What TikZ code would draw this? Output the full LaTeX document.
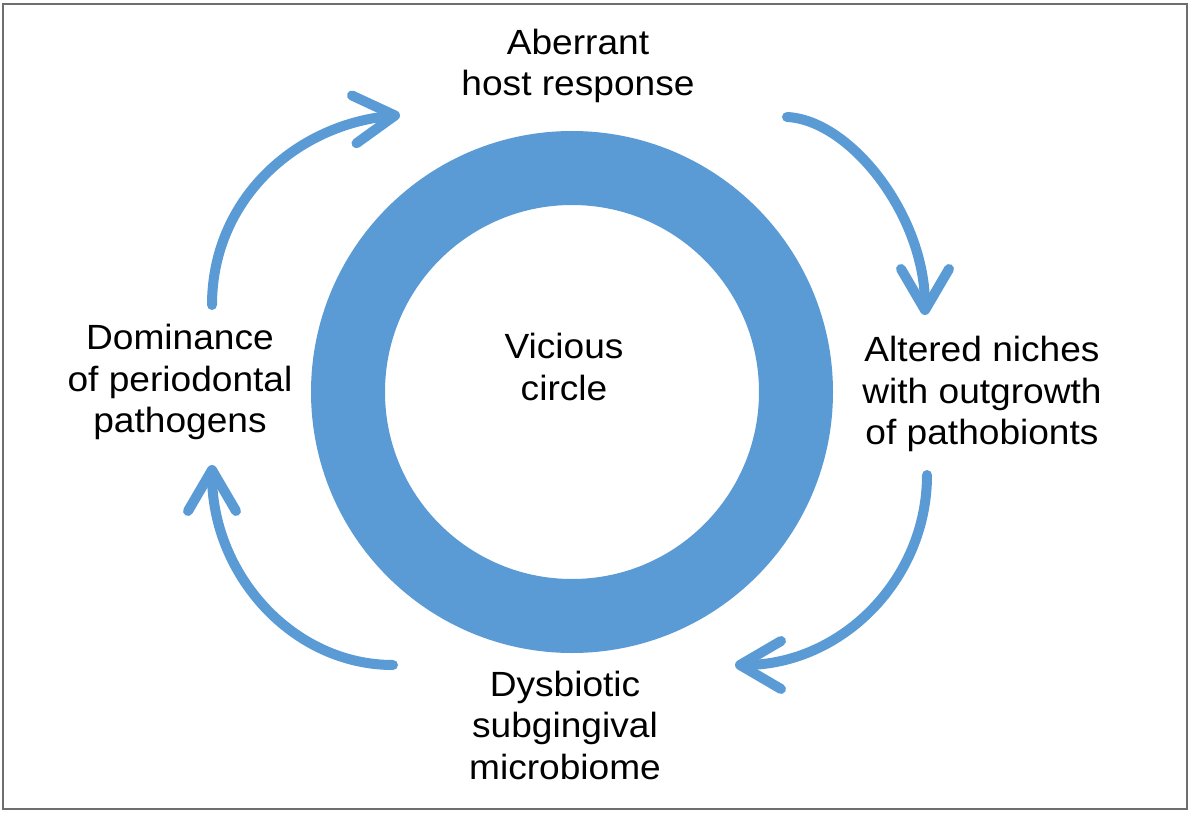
\documentclass[tikz,border=0pt]{standalone}
\usepackage{fontspec}
\setmainfont{Liberation Sans}[FakeStretch=1.06]
\usetikzlibrary{arrows.meta}
\definecolor{ringblue}{RGB}{91,155,213}
\definecolor{framegray}{RGB}{110,110,110}
\begin{document}
\begin{tikzpicture}[x=1pt,y=-1pt,
  lbl/.style={align=center, font=\fontsize{35}{41.5}\selectfont, inner sep=0pt},
  cyc/.style={line width=10pt, draw=ringblue, line cap=round,
    -{Straight Barb[round,length=41pt,width=48pt]}}]
  \useasboundingbox (0,0) rectangle (1191,813);
  \draw[framegray, line width=2.5pt] (3,4) rectangle (1187,809);
  % ring
  \node[circle, draw=ringblue, line width=74pt, minimum size=448pt, inner sep=0pt] (ring) at (572,392) {};
  % labels
  \node[lbl] (center) at (564,367) {Vicious\\circle};
  \node[lbl] (top) at (578,66) {Aberrant\\host response};
  \node[lbl] (right) at (982,394) {Altered niches\\with outgrowth\\of pathobionts};
  \node[lbl] (bottom) at (565,725) {Dysbiotic\\subgingival\\microbiome};
  \node[lbl] (left) at (180,382) {Dominance\\of periodontal\\pathogens};
  % arrow end points
  \coordinate (a1s) at (212,305);
  \coordinate (a1e) at (400,115);
  \coordinate (a2s) at (787,117);
  \coordinate (a2e) at (925,315);
  \coordinate (a3s) at (927,475);
  \coordinate (a3e) at (735,665);
  \coordinate (a4s) at (393,665);
  \coordinate (a4e) at (212,465);
  % arrows
  \draw[cyc] (a1s) .. controls (212,200) and (295,125) .. (a1e);
  \draw[cyc] (a2s) .. controls (850,120) and (925,215) .. (a2e);
  \draw[cyc] (a3s) .. controls (927,580) and (841,665) .. (a3e);
  \draw[cyc] (a4s) .. controls (293,665) and (212,575) .. (a4e);
\end{tikzpicture}
\end{document}
